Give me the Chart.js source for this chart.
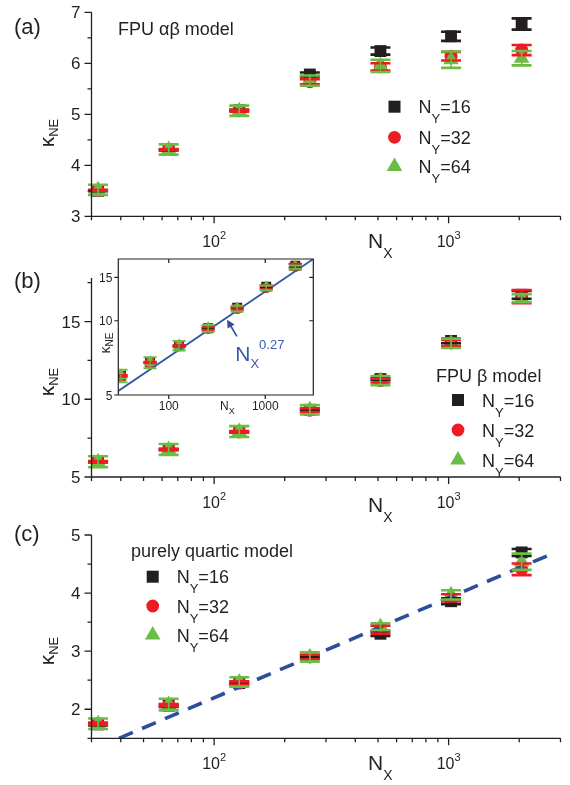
<!DOCTYPE html>
<html>
<head>
<meta charset="utf-8">
<script src="https://cdn.jsdelivr.net/npm/chart.js@4.4.1/dist/chart.umd.min.js"></script>
<style>
  html, body { margin: 0; padding: 0; background: #fff; }
  #wrap { position: relative; width: 570px; height: 785px; }
  #wrap canvas { position: absolute; left: 0; top: 0; }
</style>
</head>
<body>
<div id="wrap">
  <canvas id="chartA" width="570" height="785"></canvas>
  <canvas id="chartB" width="570" height="785"></canvas>
  <canvas id="chartC" width="570" height="785"></canvas>
  <canvas id="chartInset" width="570" height="785"></canvas>
</div>
<script>
const FONT = '"Liberation Sans", Arial, Helvetica, sans-serif';
const BLACK = '#231f20', RED = '#ed1c24', GREEN = '#6cbd45', BLUE = '#2d4d9d';

// system length along x
const nx = [32, 64, 128, 256, 512, 1024, 2048];
const legendLabels = ['16', '32', '64'];

// (a) FPU alpha-beta model
const a16 = [3.50, 4.30, 5.08, 5.78, 6.24, 6.53, 6.77];
const a16err = [0.01, 0.01, 0.01, 0.04, 0.07, 0.09, 0.11];
const a32 = [3.51, 4.31, 5.07, 5.64, 5.93, 6.14, 6.26];
const a32err = [0.01, 0.01, 0.02, 0.05, 0.07, 0.085, 0.1];
const a64 = [3.52, 4.31, 5.07, 5.66, 5.95, 6.07, 6.10];
const a64err = [0.1, 0.1, 0.1, 0.1, 0.12, 0.16, 0.14];

// (b) FPU beta model
const b16 = [5.98, 6.77, 7.90, 9.32, 11.30, 13.75, 16.72];
const b16err = [0.03, 0.03, 0.03, 0.05, 0.05, 0.15, 0.25];
const b32 = [5.98, 6.77, 7.90, 9.30, 11.20, 13.62, 16.60];
const b32err = [0.05, 0.05, 0.05, 0.12, 0.12, 0.2, 0.42];
const b64 = [5.98, 6.77, 7.92, 9.32, 11.20, 13.60, 16.50];
const b64err = [0.35, 0.35, 0.35, 0.3, 0.3, 0.3, 0.25];

// (c) purely quartic model
const c16 = [1.74, 2.06, 2.45, 2.90, 3.30, 3.86, 4.70];
const c16err = [0.02, 0.02, 0.02, 0.02, 0.04, 0.05, 0.06];
const c32 = [1.75, 2.07, 2.45, 2.90, 3.37, 3.92, 4.41];
const c32err = [0.02, 0.02, 0.03, 0.04, 0.07, 0.06, 0.1];
const c64 = [1.75, 2.08, 2.47, 2.90, 3.42, 3.97, 4.54];
const c64err = [0.09, 0.1, 0.08, 0.08, 0.06, 0.08, 0.14];

// fitted lines (end points)
const fitBX = [30, 3150];
const fitBY = [5.19, 17.8];
const fitCX = [39.3, 2630];
const fitCY = [1.5, 4.64];

// axes
const xMin = 30, xMax = 3000;
const xMajor = [100, 1000];
const xMajorLabels = [['10', '2'], ['10', '3']];
const xMinor = [30, 40, 50, 60, 70, 80, 90, 200, 300, 400, 500, 600, 700, 800, 900, 2000, 3000];
const yTicksA = [3, 4, 5, 6, 7], yMinorA = [3.5, 4.5, 5.5, 6.5];
const yTicksB = [5, 10, 15], yMinorB = [7.5, 12.5, 17.5];
const yTicksC = [2, 3, 4, 5], yMinorC = [1.5, 2.5, 3.5, 4.5];
const insetXTicks = [100, 1000];
const insetYTicks = [5, 10, 15];

function richText(ctx, parts, x, y, align) {
  let w = 0;
  parts.forEach(p => { ctx.font = p[1] + 'px ' + FONT; w += ctx.measureText(p[0]).width; });
  let cx = align === 'center' ? x - w / 2 : align === 'right' ? x - w : x;
  ctx.textAlign = 'left';
  ctx.textBaseline = 'alphabetic';
  parts.forEach(p => {
    ctx.font = p[1] + 'px ' + FONT;
    ctx.fillText(p[0], cx, y + (p[2] || 0));
    cx += ctx.measureText(p[0]).width;
  });
}

function marker(ctx, style, x, y, r, color) {
  ctx.fillStyle = color;
  ctx.beginPath();
  if (style === 'rect') {
    const s = r * Math.SQRT1_2;
    ctx.rect(x - s, y - s, 2 * s, 2 * s);
  } else if (style === 'circle') {
    ctx.arc(x, y, r, 0, Math.PI * 2);
  } else {
    ctx.moveTo(x, y - r);
    ctx.lineTo(x + r * 0.866, y + r * 0.5);
    ctx.lineTo(x - r * 0.866, y + r * 0.5);
    ctx.closePath();
  }
  ctx.fill();
}

function pointSet(vals, errs, color, style, r, order) {
  return {
    data: nx.map((x, i) => ({ x: x, y: vals[i] })),
    errors: errs,
    pointStyle: style,
    pointRadius: r,
    pointBackgroundColor: color,
    pointBorderWidth: 0,
    borderColor: color,
    backgroundColor: color,
    showLine: false,
    order: order
  };
}

function lineSet(xs, ys, color, width, dash) {
  return {
    type: 'line',
    data: xs.map((x, i) => ({ x: x, y: ys[i] })),
    borderColor: color,
    borderWidth: width,
    borderDash: dash,
    pointRadius: 0,
    fill: false,
    order: 0
  };
}

const errorBars = {
  id: 'errorBars',
  afterDatasetsDraw(chart, args, opts) {
    const ctx = chart.ctx, xs = chart.scales.x, ys = chart.scales.y, ca = chart.chartArea;
    ctx.save();
    if (opts.clip) {
      ctx.beginPath();
      ctx.rect(ca.left, ca.top, ca.right - ca.left, ca.bottom - ca.top);
      ctx.clip();
    }
    chart.data.datasets.forEach(ds => {
      if (!ds.errors) return;
      ctx.strokeStyle = ds.borderColor;
      ds.data.forEach((p, i) => {
        const px = xs.getPixelForValue(p.x);
        const top = ys.getPixelForValue(p.y + ds.errors[i]);
        const bot = ys.getPixelForValue(p.y - ds.errors[i]);
        ctx.lineWidth = opts.stem;
        ctx.beginPath();
        ctx.moveTo(px, top); ctx.lineTo(px, bot);
        ctx.stroke();
        ctx.lineWidth = opts.capWidth;
        ctx.beginPath();
        ctx.moveTo(px - opts.cap / 2, top); ctx.lineTo(px + opts.cap / 2, top);
        ctx.moveTo(px - opts.cap / 2, bot); ctx.lineTo(px + opts.cap / 2, bot);
        ctx.stroke();
      });
    });
    ctx.restore();
  }
};

function mainFrame(cfg) {
  return {
    id: 'frame',
    afterDraw(chart) {
      const ctx = chart.ctx, xs = chart.scales.x, ys = chart.scales.y, ca = chart.chartArea;
      ctx.save();
      ctx.strokeStyle = BLACK;
      ctx.fillStyle = BLACK;
      ctx.lineWidth = 1.3;
      ctx.beginPath();
      ctx.moveTo(ca.left, ca.top);
      ctx.lineTo(ca.left, ca.bottom);
      ctx.lineTo(ca.right, ca.bottom);
      cfg.yMajor.forEach(v => { const y = ys.getPixelForValue(v); ctx.moveTo(ca.left - 7, y); ctx.lineTo(ca.left, y); });
      cfg.yMinor.forEach(v => { const y = ys.getPixelForValue(v); ctx.moveTo(ca.left - 4, y); ctx.lineTo(ca.left, y); });
      xMajor.forEach(v => { const x = xs.getPixelForValue(v); ctx.moveTo(x, ca.bottom); ctx.lineTo(x, ca.bottom + 7); });
      xMinor.forEach(v => { const x = xs.getPixelForValue(v); ctx.moveTo(x, ca.bottom); ctx.lineTo(x, ca.bottom + 4); });
      ctx.stroke();

      // tick labels
      ctx.font = '17px ' + FONT;
      ctx.textAlign = 'right';
      ctx.textBaseline = 'alphabetic';
      cfg.yMajor.forEach(v => ctx.fillText(String(v), ca.left - 11, ys.getPixelForValue(v) + 6));
      xMajor.forEach((v, i) => {
        richText(ctx, [[xMajorLabels[i][0], 16, 0], [xMajorLabels[i][1], 11, -8]], xs.getPixelForValue(v), ca.bottom + 31, 'center');
      });

      // axis titles
      richText(ctx, [['N', 21, 0], ['X', 14, 10]], 368, ca.bottom + cfg.nxDy, 'left');
      ctx.save();
      ctx.translate(54, cfg.kappaY);
      ctx.rotate(-Math.PI / 2);
      richText(ctx, [['κ', 21, 0], ['NE', 13, 4]], 0, 0, 'center');
      ctx.restore();

      // panel letter and model name
      richText(ctx, [[cfg.letter, 22, 0]], 14, cfg.letterY, 'left');
      richText(ctx, [[cfg.title, 18, 0]], cfg.titleX, cfg.titleY, 'left');

      // legend
      const styles = ['rect', 'circle', 'triangle'];
      const colors = [BLACK, RED, GREEN];
      const radii = [8.5, 6.4, 9];
      legendLabels.forEach((lab, i) => {
        const y = cfg.legendY[i];
        marker(ctx, styles[i], cfg.legendX, y, radii[i], colors[i]);
        ctx.fillStyle = BLACK;
        richText(ctx, [['N', 18, 0], ['Y', 13, 10], ['=' + lab, 18, 0]], cfg.legendX + 24, y + 6.5, 'left');
      });
      ctx.restore();
    }
  };
}

const insetFrame = {
  id: 'insetFrame',
  beforeDraw(chart) {
    const ctx = chart.ctx, ca = chart.chartArea;
    ctx.save();
    ctx.fillStyle = '#fff';
    ctx.fillRect(ca.left, ca.top, ca.right - ca.left, ca.bottom - ca.top);
    ctx.restore();
  },
  afterDraw(chart) {
    const ctx = chart.ctx, xs = chart.scales.x, ys = chart.scales.y, ca = chart.chartArea;
    ctx.save();
    ctx.strokeStyle = BLACK;
    ctx.fillStyle = BLACK;
    ctx.lineWidth = 1.2;
    ctx.beginPath();
    ctx.rect(ca.left, ca.top, ca.right - ca.left, ca.bottom - ca.top);
    insetYTicks.forEach(v => {
      const y = ys.getPixelForValue(v);
      ctx.moveTo(ca.left - 4, y); ctx.lineTo(ca.left, y);
      ctx.moveTo(ca.right - 4, y); ctx.lineTo(ca.right, y);
    });
    insetXTicks.forEach(v => {
      const x = xs.getPixelForValue(v);
      ctx.moveTo(x, ca.bottom); ctx.lineTo(x, ca.bottom + 4);
      ctx.moveTo(x, ca.top); ctx.lineTo(x, ca.top + 4);
    });
    ctx.stroke();

    ctx.font = '12px ' + FONT;
    ctx.textAlign = 'right';
    insetYTicks.forEach(v => ctx.fillText(String(v), ca.left - 6, ys.getPixelForValue(v) + 4.5));
    ctx.textAlign = 'center';
    insetXTicks.forEach(v => ctx.fillText(String(v), xs.getPixelForValue(v), ca.bottom + 15));
    richText(ctx, [['N', 12, 0], ['X', 9, 4]], 220, ca.bottom + 15, 'left');
    ctx.save();
    ctx.translate(110, 343);
    ctx.rotate(-Math.PI / 2);
    richText(ctx, [['κ', 14, 0], ['NE', 10, 3]], 0, 0, 'center');
    ctx.restore();

    // arrow and exponent label
    const hx = xs.getPixelForValue(402), hy = ys.getPixelForValue(10.1);
    const tx = xs.getPixelForValue(509), ty = ys.getPixelForValue(8.64);
    const ang = Math.atan2(hy - ty, hx - tx);
    ctx.strokeStyle = BLUE;
    ctx.fillStyle = BLUE;
    ctx.lineWidth = 1.6;
    ctx.beginPath();
    ctx.moveTo(tx, ty);
    ctx.lineTo(hx - 5 * Math.cos(ang), hy - 5 * Math.sin(ang));
    ctx.stroke();
    ctx.beginPath();
    ctx.moveTo(hx, hy);
    ctx.lineTo(hx - 8 * Math.cos(ang) + 4 * Math.sin(ang), hy - 8 * Math.sin(ang) - 4 * Math.cos(ang));
    ctx.lineTo(hx - 8 * Math.cos(ang) - 4 * Math.sin(ang), hy - 8 * Math.sin(ang) + 4 * Math.cos(ang));
    ctx.closePath();
    ctx.fill();
    ctx.fillStyle = '#3a5ba9';
    richText(ctx, [['N', 21, 0], ['X', 13, 7], ['0.27', 13, -12]], xs.getPixelForValue(489), ys.getPixelForValue(6.88), 'left');
    ctx.restore();
  }
};

function panel(id, pad, yMin, yMax, datasets, frameCfg) {
  return new Chart(document.getElementById(id), {
    type: 'scatter',
    data: { datasets: datasets },
    options: {
      responsive: false,
      animation: false,
      devicePixelRatio: 1,
      events: [],
      layout: { padding: pad },
      datasets: { scatter: { clip: false } },
      plugins: {
        legend: { display: false },
        tooltip: { enabled: false },
        errorBars: { cap: 20, stem: 1.6, capWidth: 2.6, clip: false }
      },
      scales: {
        x: { type: 'logarithmic', min: xMin, max: xMax, display: false },
        y: { type: 'linear', min: yMin, max: yMax, display: false }
      }
    },
    plugins: [errorBars, mainFrame(frameCfg)]
  });
}

panel('chartA', { left: 91.5, right: 9.5, top: 12.3, bottom: 568.7 }, 3, 7, [
  pointSet(a16, a16err, BLACK, 'rect', 8.4, 3),
  pointSet(a32, a32err, RED, 'circle', 6.5, 2),
  pointSet(a64, a64err, GREEN, 'triangle', 9, 1)
], {
  yMajor: yTicksA, yMinor: yMinorA, nxDy: 32, kappaY: 133,
  letter: '(a)', letterY: 34, title: 'FPU αβ model', titleX: 118, titleY: 35,
  legendX: 394.5, legendY: [106.7, 137.3, 166.5]
});

panel('chartB', { left: 91.5, right: 9.5, top: 278, bottom: 308 }, 5, 17.8, [
  pointSet(b16, b16err, BLACK, 'rect', 8.4, 3),
  pointSet(b32, b32err, RED, 'circle', 6.5, 2),
  pointSet(b64, b64err, GREEN, 'triangle', 9, 1)
], {
  yMajor: yTicksB, yMinor: yMinorB, nxDy: 35, kappaY: 382,
  letter: '(b)', letterY: 288, title: 'FPU β model', titleX: 436, titleY: 382,
  legendX: 458, legendY: [400, 430, 460]
});

panel('chartC', { left: 91.5, right: 9.5, top: 535, bottom: 46.7 }, 1.5, 5, [
  lineSet(fitCX, fitCY, BLUE, 3.6, [15, 10]),
  pointSet(c16, c16err, BLACK, 'rect', 8.4, 3),
  pointSet(c32, c32err, RED, 'circle', 6.5, 2),
  pointSet(c64, c64err, GREEN, 'triangle', 9, 1)
], {
  yMajor: yTicksC, yMinor: yMinorC, nxDy: 32, kappaY: 651,
  letter: '(c)', letterY: 541, title: 'purely quartic model', titleX: 131, titleY: 557,
  legendX: 152.7, legendY: [576.7, 606, 635]
});

new Chart(document.getElementById('chartInset'), {
  type: 'scatter',
  data: {
    datasets: [
      lineSet(fitBX, fitBY, '#3456a6', 1.8, []),
      pointSet(b16, b16err, BLACK, 'rect', 7, 3),
      pointSet(b32, b32err, RED, 'circle', 5.4, 2),
      pointSet(b64, b64err, GREEN, 'triangle', 7.4, 1)
    ]
  },
  options: {
    responsive: false,
    animation: false,
    devicePixelRatio: 1,
    events: [],
    layout: { padding: { left: 118.3, right: 256.7, top: 259, bottom: 390 } },
    datasets: { scatter: { clip: 0 }, line: { clip: 0 } },
    plugins: {
      legend: { display: false },
      tooltip: { enabled: false },
      errorBars: { cap: 13, stem: 1.2, capWidth: 2, clip: true }
    },
    scales: {
      x: { type: 'logarithmic', min: 30, max: 3150, display: false },
      y: { type: 'logarithmic', min: 5, max: 17.8, display: false }
    }
  },
  plugins: [insetFrame, errorBars]
});
</script>
</body>
</html>
